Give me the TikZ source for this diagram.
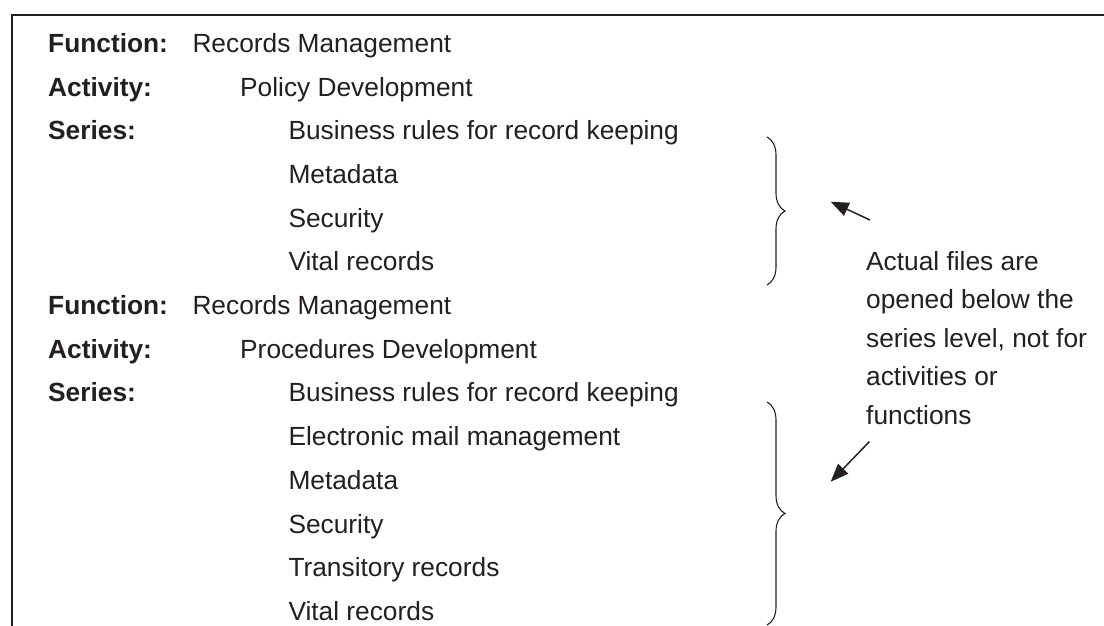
\documentclass[tikz,border=0pt]{standalone}
\usepackage{fontspec}
\setmainfont{Liberation Sans}
\usepackage{tikz}
\usepackage{xcolor}
\usetikzlibrary{positioning, arrows.meta, decorations.pathreplacing}
\definecolor{ink}{HTML}{231F20}
\newcommand{\listfont}{\fontsize{26.3}{38.5}\selectfont}
\tikzset{label/.style={anchor=base west,inner sep=0pt,font=\listfont\bfseries},
  entry/.style={anchor=base west,inner sep=0pt,font=\listfont},
  curly/.style={decorate,decoration={brace,amplitude=18pt},line width=1.1pt},
  pointer/.style={-{Triangle[length=18pt,width=14pt]},line width=1.5pt}}

\begin{document}
\begin{tikzpicture}[x=1pt,y=-1pt,color=ink]
  \useasboundingbox (0,0) rectangle (1104,626);
  \draw[line width=2pt] (11.5,626) |- (1104,15);

  % first group
  \node[label] (funA) at (48,52.3) {Function:};
  \node[entry] (funAname) at (192.3,52.3) {Records Management};
  \node[label] (actA) at (48,96) {Activity:};
  \node[entry] (actAname) at (240,96) {Policy Development};
  \node[label] (serA) at (48,139.7) {Series:};
  \foreach \t [count=\i] in {Business rules for record keeping, Metadata, Security, Vital records}
    \node[entry] (itemA\i) at (288.3,{52.3+43.7*(\i+1)}) {\t};

  % second group
  \node[label] (funB) at (48,314.5) {Function:};
  \node[entry] (funBname) at (192.3,314.5) {Records Management};
  \node[label] (actB) at (48,358.2) {Activity:};
  \node[entry] (actBname) at (240,358.2) {Procedures Development};
  \node[label] (serB) at (48,401.9) {Series:};
  \foreach \t [count=\i] in {Business rules for record keeping, Electronic mail management, Metadata, Security, Transitory records, Vital records}
    \node[entry] (itemB\i) at (288.3,{52.3+43.7*(\i+7)}) {\t};

  % braces round the series
  \coordinate (braceAtop) at (767,137);
  \coordinate (braceAbot) at (767,285);
  \coordinate (braceBtop) at (767,402);
  \coordinate (braceBbot) at (767,625);
  \draw[curly] (braceAtop) -- (braceAbot);
  \draw[curly] (braceBtop) -- (braceBbot);

  % note (base sits on its last line) and its arrows
  \node[entry,align=left] (note) at (866,424) {Actual files are\\opened below the\\series level, not for\\activities or\\functions};
  \coordinate (tailA) at (870,220);
  \coordinate (tipA) at (830.7,201.7);
  \coordinate (tailB) at (869.3,441.7);
  \coordinate (tipB) at (830.7,481.7);
  \draw[pointer] (tailA) -- (tipA);
  \draw[pointer] (tailB) -- (tipB);
\end{tikzpicture}
\end{document}
